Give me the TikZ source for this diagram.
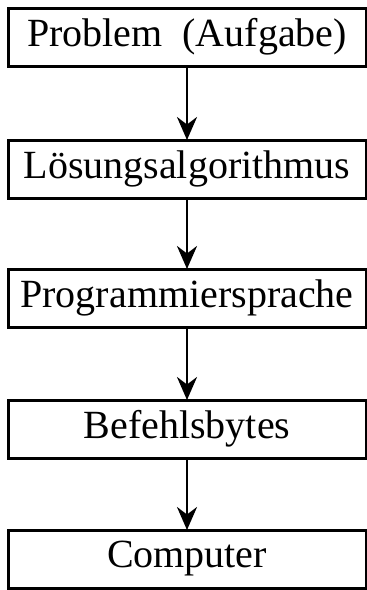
\documentclass[tikz,border=0pt]{standalone}
\usepackage{fontspec}
\setmainfont{Liberation Serif}
\usetikzlibrary{positioning,arrows.meta}
\begin{document}
\begin{tikzpicture}[x=1pt,y=1pt]
        \useasboundingbox (0,0) rectangle (367,-590);
        \tikzset{box/.style={draw,rectangle,line width=3pt,outer sep=0pt,minimum width=358pt,minimum height=58pt,inner sep=0pt,font=\fontsize{40}{40}\selectfont}}
        \tikzset{flow/.style={line width=2.6pt,-{Stealth[length=23pt,width=20pt]}}}
        \node(problem)[box] at (187,-37) {Problem\ \ (Aufgabe)};
        \node(loesung)[below =74pt of problem,box] {Lösungsalgorithmus};
        \node(sprache)[below =71pt of loesung,box] {Programmiersprache};
        \node(bytes)[below =73pt of sprache,box] {Befehlsbytes};
        \node(computer)[below =72pt of bytes,box] {Computer};
        \draw[flow] (problem) -- (loesung);
        \draw[flow] (loesung) -- (sprache);
        \draw[flow] (sprache) -- (bytes);
        \draw[flow] (bytes) -- (computer);
    \end{tikzpicture}
\end{document}
